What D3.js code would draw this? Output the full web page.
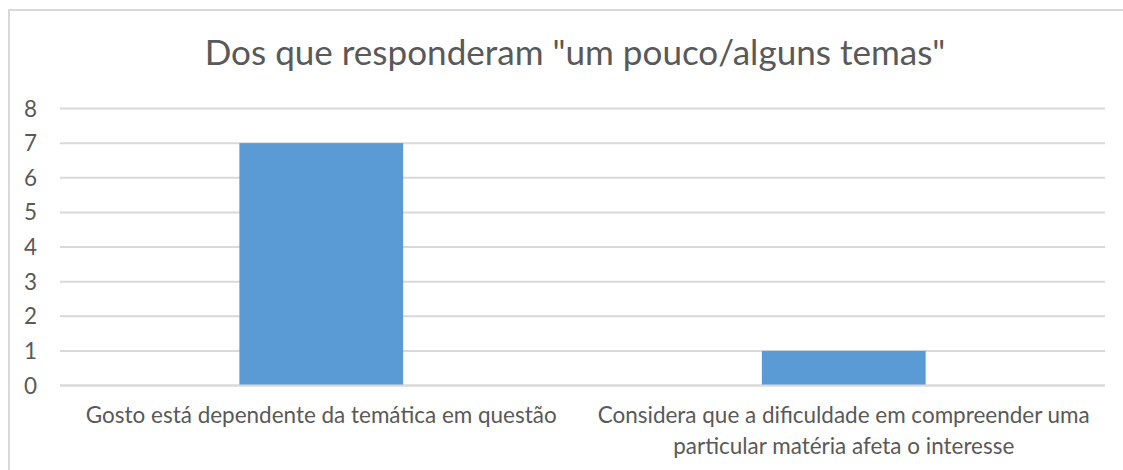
<!DOCTYPE html>
<html>
<head>
<meta charset="utf-8">
<script src="https://cdn.jsdelivr.net/npm/d3@7"></script>
<style>
  body { margin: 0; background: #fff; }
  text { font-family: Lato, "Open Sans", sans-serif; }
</style>
</head>
<body>
<svg id="chart" width="1123" height="470"></svg>
<script>
// chart data
var title = 'Dos que responderam "um pouco/alguns temas"';
var categories = ["Gosto está dependente da temática em questão",
                  "Considera que a dificuldade em compreender uma particular matéria afeta o interesse"];
var catLines = [["Gosto está dependente da temática em questão"],
                ["Considera que a dificuldade em compreender uma", "particular matéria afeta o interesse"]];
var values = [7, 1];
var yTicks = [0, 1, 2, 3, 4, 5, 6, 7, 8];

var svg = d3.select("#chart");
var W = 1123, H = 470;
var margin = {left: 60, right: 18, top: 108.5, bottom: 84.5};

// outer chart border (right and bottom edges fall outside the picture)
svg.append("rect")
  .attr("x", 9).attr("y", 10)
  .attr("width", W + 20).attr("height", H)
  .attr("fill", "#fff")
  .attr("stroke", "#d9d9d9")
  .attr("stroke-width", 2);

var x = d3.scaleBand()
  .domain(categories)
  .range([margin.left, W - margin.right])
  .padding(0);

var y = d3.scaleLinear()
  .domain([0, 8])
  .range([H - margin.bottom, margin.top]);

// makes the text fill a target width by tweaking the font size
function fitWidth(sel, target) {
  var w = sel.node().getComputedTextLength();
  var fs = parseFloat(sel.attr("font-size"));
  sel.attr("font-size", fs * target / w);
  return fs * target / w;
}

// gridlines
svg.append("g")
  .selectAll("line")
  .data(yTicks)
  .join("line")
  .attr("x1", margin.left)
  .attr("x2", W - margin.right)
  .attr("y1", function(d) { return y(d); })
  .attr("y2", function(d) { return y(d); })
  .attr("stroke", "#d9d9d9")
  .attr("stroke-width", 2);

// bars - gap width ~219%
var barW = x.bandwidth() / 3.19;
svg.append("g")
  .selectAll("rect")
  .data(values)
  .join("rect")
  .attr("x", function(d, i) { return x(categories[i]) + (x.bandwidth() - barW) / 2; })
  .attr("y", function(d) { return y(d); })
  .attr("width", barW)
  .attr("height", function(d) { return y(0) - y(d); })
  .attr("fill", "#5b9bd5");

// redraw baseline on top like excel does
svg.append("line")
  .attr("x1", margin.left).attr("x2", W - margin.right)
  .attr("y1", y(0)).attr("y2", y(0))
  .attr("stroke", "#d9d9d9").attr("stroke-width", 2);

// category labels
var first = svg.append("text")
  .attr("font-size", 20)
  .attr("fill", "#595959")
  .attr("text-anchor", "middle")
  .text(catLines[0][0]);
var catSize = fitWidth(first, 471);
first.remove();

var catG = svg.append("g");
catLines.forEach(function(lines, i) {
  var cx = x(categories[i]) + x.bandwidth() / 2;
  lines.forEach(function(line, j) {
    catG.append("text")
      .attr("x", cx)
      .attr("y", 423 + j * 31)
      .attr("font-size", catSize)
      .attr("fill", "#595959")
      .attr("text-anchor", "middle")
      .text(line);
  });
});

// y tick labels
svg.append("g")
  .selectAll("text")
  .data(yTicks)
  .join("text")
  .attr("x", 37)
  .attr("y", function(d) { return y(d); })
  .attr("dy", "0.36em")
  .attr("text-anchor", "end")
  .attr("font-size", catSize)
  .attr("fill", "#595959")
  .text(function(d) { return d; });

// title
var t = svg.append("text")
  .attr("x", 575)
  .attr("y", 65)
  .attr("font-size", 32)
  .attr("fill", "#595959")
  .attr("text-anchor", "middle")
  .text(title);
fitWidth(t, 741);
</script>
</body>
</html>
